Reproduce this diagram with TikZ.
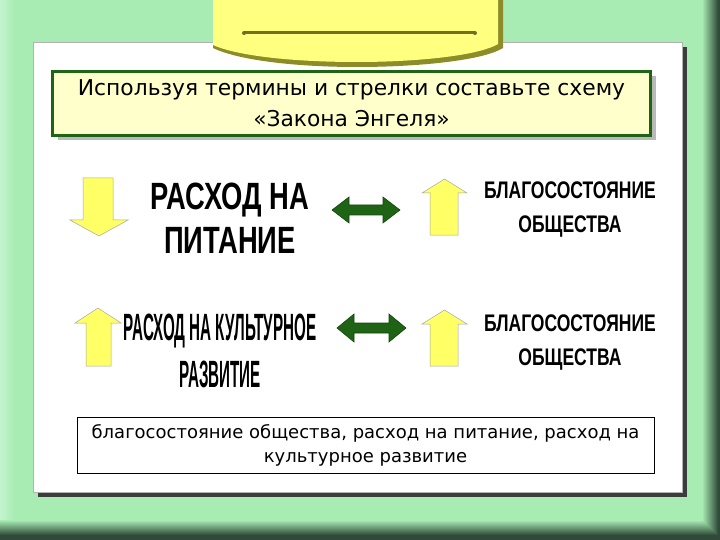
\documentclass[tikz,border=0pt]{standalone}
\usepackage{fontspec}
\usetikzlibrary{shadows}
\setmainfont{DejaVu Sans}
\newfontfamily\headfont{Liberation Sans}[FakeStretch=0.72]
\newfontfamily\narrowfont{Liberation Sans}[FakeStretch=0.40]
\newfontfamily\wellfont{Liberation Sans}[FakeStretch=0.73]
\definecolor{bggreen}{HTML}{A8ECB4}
\definecolor{bglight}{HTML}{C4F4CE}
\definecolor{bgdark}{HTML}{2F4A38}
\definecolor{panelshadow}{HTML}{3C3C3C}
\definecolor{titlefill}{HTML}{FFFFCC}
\definecolor{titlegreen}{HTML}{1E6414}
\definecolor{arrowyellow}{HTML}{FFFF66}
\definecolor{arrowgreen}{HTML}{1E6414}
\definecolor{tabyellow}{HTML}{FFFF80}
\definecolor{tabdark}{HTML}{8C8C28}
\begin{document}
\begin{tikzpicture}[x=1pt,y=-1pt,
  yarrow/.style={fill=arrowyellow,draw=gray!70,line width=.5pt},
  garrow/.style={fill=arrowgreen,draw=arrowgreen!70!black,line width=.6pt},
  bigword/.style={align=center,inner sep=0pt,text=black}]
\useasboundingbox (0,0) rectangle (720,540);
% frame
\fill[bggreen] (0,0) rectangle (720,540);
\shade[left color=bglight,right color=bggreen] (0,0) rectangle (14,540);
\begin{scope}
\clip (702,0) -- (720,0) -- (720,540) -- (702,522) -- cycle;
\shade[left color=bggreen,right color=bgdark] (702,0) rectangle (718,540);
\fill[bgdark] (718,0) rectangle (720,540);
\end{scope}
\begin{scope}
\clip (0,520) -- (702,520) -- (722,540) -- (0,540) -- cycle;
\shade[top color=bggreen,bottom color=bgdark] (0,520) rectangle (720,535);
\fill[bgdark] (0,535) rectangle (720,540);
\end{scope}
% white panel
\fill[panelshadow] (38,47) rectangle (687,497);
\filldraw[fill=white,draw=gray!60,line width=.6pt] (33,42) rectangle (682,492);
% tab with slot
\fill[tabdark] (213,-2) -- (213,48) .. controls (240,61) and (300,67) .. (357,67)
  .. controls (415,67) and (482,61) .. (503,48) -- (503,-2) -- cycle;
\fill[tabyellow] (213,-2) -- (213,45) .. controls (240,57) and (300,62) .. (357,62)
  .. controls (415,62) and (478,56) .. (498,44) -- (498,-2) -- cycle;
\draw[tabdark!80!black,line width=4pt,line cap=round] (244,33) -- (475,33);
\draw[tabyellow,line width=1.6pt,line cap=round] (246,34.6) -- (473,34.6);
% task
\node[draw=titlegreen,line width=2.5pt,fill=titlefill,minimum width=598pt,minimum height=64pt,
  inner sep=0pt,align=center,font=\fontsize{21.8}{31}\selectfont,
  drop shadow={shadow xshift=5pt,shadow yshift=-5pt,fill=gray!55,opacity=1}]
  (task) at (351.5,103.5) {Используя термины и стрелки составьте схему\\«Закона Энгеля»};
% arrows
\filldraw[yarrow] (83,178) -- (113,178) -- (113,220) -- (128,220) -- (99,236) -- (70,220) -- (83,220) -- cycle;
\filldraw[yarrow] (98,308) -- (121,323) -- (111,323) -- (111,366) -- (86,366) -- (86,323) -- (75,323) -- cycle;
\foreach \t in {179,310}
  \filldraw[yarrow] (444.5,\t) -- (467,\t+14) -- (458,\t+14) -- (458,\t+56) -- (430,\t+56) -- (430,\t+14) -- (422,\t+14) -- cycle;
\filldraw[garrow] (332,210) -- (349,197) -- (349,205) -- (383,205) -- (383,197) -- (400,210)
  -- (383,223) -- (383,215) -- (349,215) -- (349,223) -- cycle;
\filldraw[garrow] (337,328) -- (354,314) -- (354,323) -- (389,323) -- (389,314) -- (406,328)
  -- (389,342) -- (389,333) -- (354,333) -- (354,342) -- cycle;
% words
\node[bigword,font=\headfont\bfseries\fontsize{38}{44}\selectfont] (food) at (230,218) {РАСХОД НА\\ПИТАНИЕ};
\node[bigword,font=\narrowfont\bfseries\fontsize{38}{47}\selectfont] (culture) at (220,351) {РАСХОД НА КУЛЬТУРНОЕ\\РАЗВИТИЕ};
\node[bigword,font=\wellfont\bfseries\fontsize{24}{34}\selectfont] (wealthA) at (570,210) {БЛАГОСОСТОЯНИЕ\\ОБЩЕСТВА};
\node[bigword,font=\wellfont\bfseries\fontsize{24}{34}\selectfont] (wealthB) at (570,343) {БЛАГОСОСТОЯНИЕ\\ОБЩЕСТВА};
% terms
\node[draw=black,line width=.7pt,fill=white,minimum width=577pt,minimum height=56pt,
  inner sep=0pt,align=center,font=\fontsize{18}{24}\selectfont]
  (terms) at (365.5,445) {благосостояние общества, расход на питание, расход на\\культурное развитие};
\end{tikzpicture}
\end{document}
